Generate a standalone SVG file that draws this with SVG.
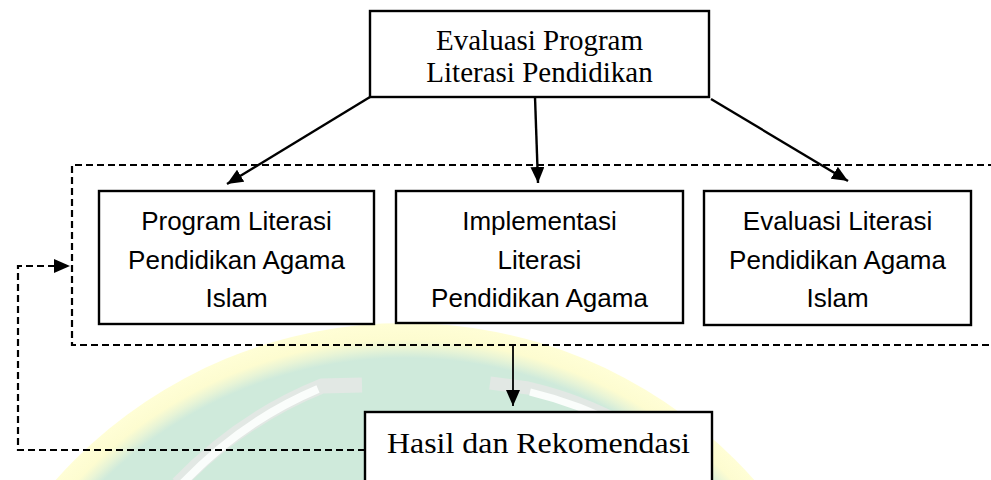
<svg xmlns="http://www.w3.org/2000/svg" width="991" height="480" viewBox="0 0 991 480">
  <defs>
    <style>
      .box { fill: #ffffff; stroke: #000000; stroke-width: 2.4; }
      .serif { font-family: "Liberation Serif", "Times New Roman", serif; fill: #000000; text-anchor: middle; }
      .sans { font-family: "Liberation Sans", Arial, sans-serif; font-size: 26px; fill: #000000; text-anchor: middle; }
      .solid { fill: none; stroke: #000000; stroke-width: 2.4; }
      .dash { fill: none; stroke: #000000; stroke-width: 2.2; stroke-dasharray: 7 4; }
    </style>
    <marker id="arrow" markerUnits="userSpaceOnUse" markerWidth="16" markerHeight="14" refX="16" refY="7" orient="auto">
      <path d="M0,0 L16,7 L0,14 z" fill="#000000"/>
    </marker>
    <radialGradient id="arch" gradientUnits="userSpaceOnUse" cx="405" cy="790" r="467">
      <stop offset="0.925" stop-color="#cfeadb"/>
      <stop offset="0.945" stop-color="#e8f4d6"/>
      <stop offset="0.965" stop-color="#fdfcd0"/>
      <stop offset="1" stop-color="#fffed6"/>
    </radialGradient>
  </defs>

  <rect x="0" y="0" width="991" height="480" fill="#ffffff"/>

  <!-- watermark -->
  <g id="watermark">
    <circle cx="405" cy="790" r="467" fill="url(#arch)"/>
    <path d="M362 385 L322 386 Q 242 418 178 484" fill="none" stroke="#e2e8e4" stroke-width="15"/>
    <path d="M318 389 Q 242 421 182 484" fill="none" stroke="#fafdfb" stroke-width="8"/>
    <path d="M490 383 L528 388 Q 580 400 625 425" fill="none" stroke="#e2e8e4" stroke-width="13"/>
    <path d="M530 392 Q 580 404 625 428" fill="none" stroke="#fafdfb" stroke-width="7"/>
  </g>

  <!-- connectors -->
  <g id="connectors">
    <path class="dash" d="M995 165 H72 V345 H995"/>
    <line class="solid" x1="370" y1="97" x2="227" y2="184" marker-end="url(#arrow)"/>
    <line class="solid" x1="535" y1="97" x2="538" y2="183" marker-end="url(#arrow)"/>
    <line class="solid" x1="711" y1="99" x2="848" y2="181" marker-end="url(#arrow)"/>
    <line x1="513" y1="345" x2="513" y2="406" stroke="#000000" stroke-width="1.8" marker-end="url(#arrow)"/>
    <path class="dash" d="M365 450 H18 V266 H70" marker-end="url(#arrow)"/>
  </g>

  <g id="node-top">
    <rect class="box" x="370" y="11" width="339" height="86"/>
    <text class="serif" font-size="29" x="539.5" y="50">Evaluasi Program</text>
    <text class="serif" font-size="29" x="539.5" y="82">Literasi Pendidikan</text>
  </g>

  <g id="node-program">
    <rect class="box" x="99" y="191" width="275" height="133"/>
    <text class="sans" x="236.5" y="230">Program Literasi</text>
    <text class="sans" x="236.5" y="269">Pendidikan Agama</text>
    <text class="sans" x="236.5" y="307">Islam</text>
  </g>

  <g id="node-implementasi">
    <rect class="box" x="396" y="191" width="287" height="132"/>
    <text class="sans" x="539.5" y="230">Implementasi</text>
    <text class="sans" x="539.5" y="269">Literasi</text>
    <text class="sans" x="539.5" y="307">Pendidikan Agama</text>
  </g>

  <g id="node-evaluasi">
    <rect class="box" x="704" y="191" width="267" height="134"/>
    <text class="sans" x="837.5" y="230">Evaluasi Literasi</text>
    <text class="sans" x="837.5" y="269">Pendidikan Agama</text>
    <text class="sans" x="837.5" y="307">Islam</text>
  </g>

  <g id="node-hasil">
    <rect class="box" x="365" y="412" width="347" height="80"/>
    <text class="serif" font-size="30" x="538.5" y="453" textLength="303" lengthAdjust="spacingAndGlyphs">Hasil dan Rekomendasi</text>
  </g>
</svg>
